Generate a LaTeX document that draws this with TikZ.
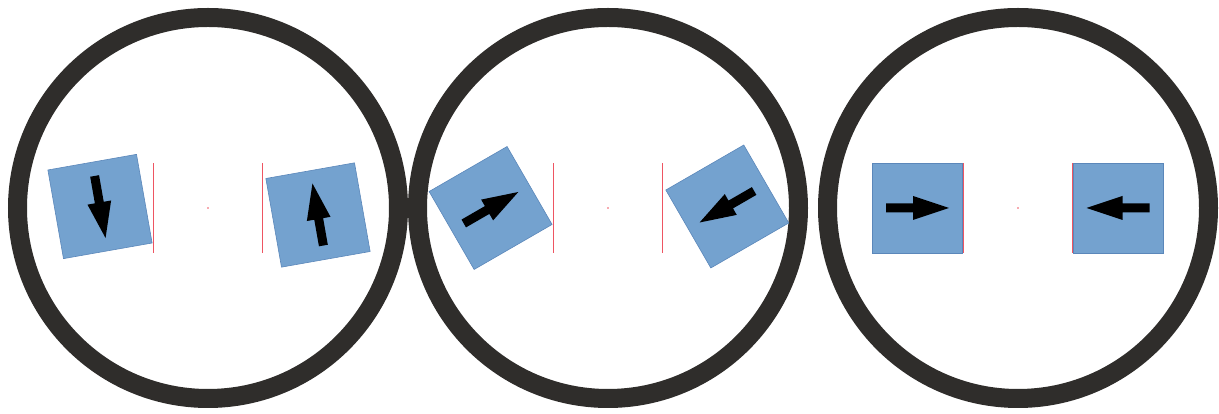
\documentclass[tikz,border=0pt]{standalone}
\usepackage{tikz}
\usetikzlibrary{calc}
\definecolor{ringgray}{HTML}{2F2D2B}
\definecolor{tileblue}{HTML}{74A2CF}
\definecolor{tileedge}{HTML}{5B87BA}
\definecolor{markred}{HTML}{EE5562}

\begin{document}
\begin{tikzpicture}[x=1pt,y=1pt,
  ring/.style={draw=ringgray,line width=19pt},
  tile/.style={fill=tileblue,draw=tileedge,line width=0.6pt},
  marker/.style={draw=markred,line width=1.3pt},
  blockarrow/.style={fill=black}]
  \useasboundingbox (0,0) rectangle (1219,414);
  % the three rings
  \foreach \cx [count=\i] in {208,608,1018}{
    \draw[ring] (\cx,206) circle (190.5);
    \coordinate (c\i) at (\cx,206);
  }
  % tiles: centre x / centre y / tile angle / arrow angle
  \foreach \tx/\ty/\rot/\dir in {100/207.5/10/-80, 318/199/10/100,
                                  490.6/206/30/30, 727.3/207.5/30/210,
                                  917/206/0/0, 1118.5/206/0/180}{
    \begin{scope}[shift={(\tx,\ty)}]
      \draw[tile,rotate=\rot] (-45,-45) rectangle (45,45);
      \fill[blockarrow,rotate=\dir] (-31,-4.5) -- (-4,-4.5) -- (-4,-12)
        -- (32,0) -- (-4,12) -- (-4,4.5) -- (-31,4.5) -- cycle;
    \end{scope}
  }
  % red guide lines and centre dots
  \foreach \i in {1,2,3}{
    \draw[marker] ($(c\i)+(-54.8,-45)$) -- ++(0,90);
    \draw[marker] ($(c\i)+(54.8,-45)$) -- ++(0,90);
    \fill[markred] (c\i) circle (0.9);
  }
\end{tikzpicture}
\end{document}
